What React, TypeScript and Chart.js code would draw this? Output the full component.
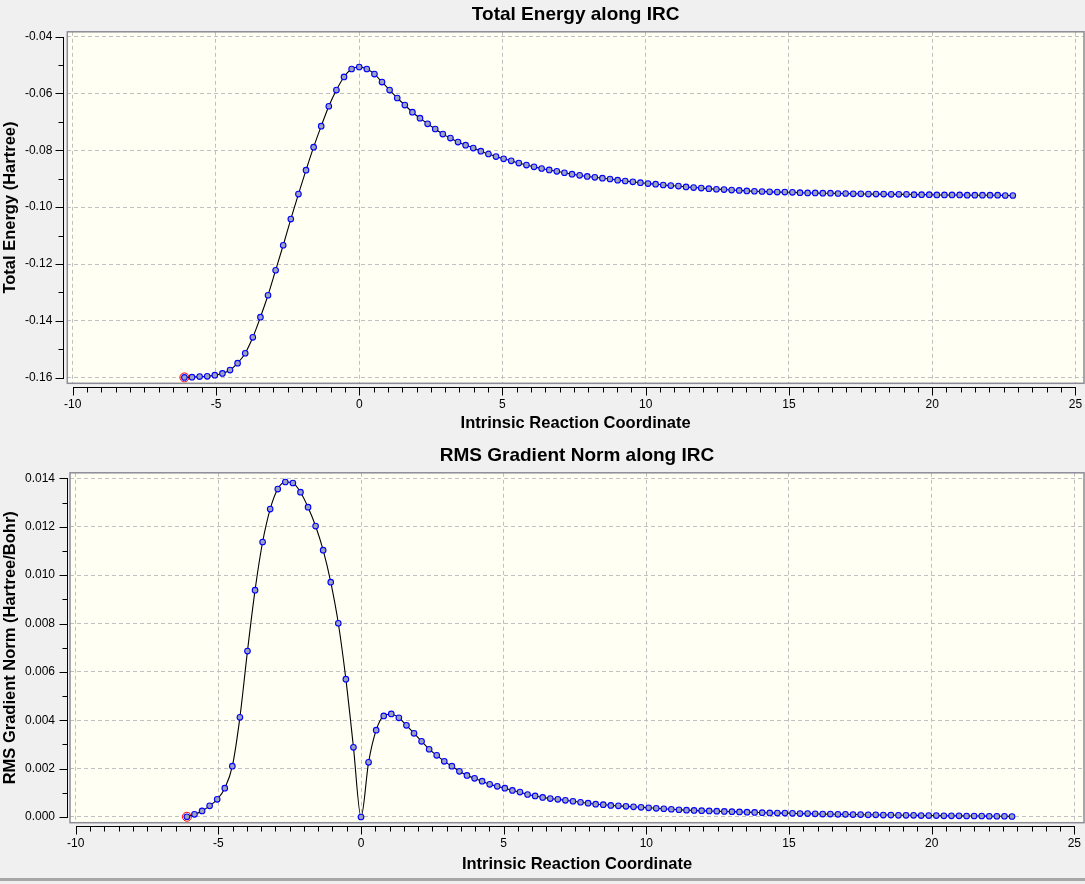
import React, { useEffect, useRef } from 'react';
import { Chart, registerables } from 'chart.js';

Chart.register(...registerables);

// Intrinsic reaction coordinate of every IRC point (reactant side negative, TS at 0)
const IRC_X = [
  -6.102, -5.837, -5.571, -5.306, -5.041, -4.775, -4.51, -4.245, -3.98, -3.714,
  -3.449, -3.184, -2.918, -2.653, -2.388, -2.122, -1.857, -1.592, -1.327, -1.061,
  -0.796, -0.531, -0.265, 0, 0.265, 0.531, 0.796, 1.061, 1.327, 1.592,
  1.857, 2.122, 2.388, 2.653, 2.918, 3.184, 3.449, 3.714, 3.98, 4.245,
  4.51, 4.775, 5.041, 5.306, 5.571, 5.837, 6.102, 6.367, 6.633, 6.898,
  7.163, 7.428, 7.694, 7.959, 8.224, 8.49, 8.755, 9.02, 9.286, 9.551,
  9.816, 10.081, 10.347, 10.612, 10.877, 11.143, 11.408, 11.673, 11.939, 12.204,
  12.469, 12.734, 13.0, 13.265, 13.53, 13.796, 14.061, 14.326, 14.592, 14.857,
  15.122, 15.387, 15.653, 15.918, 16.183, 16.449, 16.714, 16.979, 17.245, 17.51,
  17.775, 18.04, 18.306, 18.571, 18.836, 19.102, 19.367, 19.632, 19.898, 20.163,
  20.428, 20.693, 20.959, 21.224, 21.489, 21.755, 22.02, 22.285, 22.551, 22.816,
];

// Total energy (Hartree)
const TOTAL_ENERGY = [
  -0.1599, -0.1598, -0.1596, -0.1595, -0.1591, -0.1585, -0.1573, -0.1549, -0.1514, -0.1458,
  -0.1387, -0.131, -0.1222, -0.1134, -0.1042, -0.0954, -0.087, -0.0789, -0.0715, -0.0645,
  -0.0588, -0.0542, -0.0514, -0.0507, -0.0514, -0.0532, -0.056, -0.0588, -0.0616, -0.0641,
  -0.0666, -0.0687, -0.0707, -0.0725, -0.0743, -0.0757, -0.0771, -0.0782, -0.0792, -0.0803,
  -0.0813, -0.0822, -0.083, -0.0837, -0.0845, -0.0852, -0.0858, -0.0864, -0.0869, -0.0874,
  -0.0879, -0.0884, -0.0888, -0.0892, -0.0895, -0.0898, -0.0901, -0.0905, -0.0908, -0.0911,
  -0.0914, -0.0917, -0.0919, -0.0922, -0.0924, -0.0926, -0.0929, -0.0931, -0.0933, -0.0935,
  -0.0937, -0.0938, -0.094, -0.0941, -0.0943, -0.0944, -0.0945, -0.0946, -0.0947, -0.0947,
  -0.0948, -0.0949, -0.095, -0.095, -0.0951, -0.0951, -0.0952, -0.0952, -0.0953, -0.0953,
  -0.0954, -0.0954, -0.0954, -0.0955, -0.0955, -0.0955, -0.0956, -0.0956, -0.0956, -0.0957,
  -0.0957, -0.0957, -0.0957, -0.0958, -0.0958, -0.0958, -0.0958, -0.0958, -0.0959, -0.0959,
];

// RMS gradient norm (Hartree/Bohr)
const RMS_GRADIENT = [
  0.00001, 0.00011, 0.00025, 0.00046, 0.00073, 0.00119, 0.0021, 0.00412, 0.00686, 0.00938,
  0.01137, 0.01273, 0.01356, 0.01385, 0.01381, 0.01343, 0.01281, 0.01203, 0.01103, 0.00971,
  0.00801, 0.0057, 0.00288, 0.0, 0.00226, 0.00359, 0.00418, 0.00426, 0.0041, 0.00379,
  0.00346, 0.00313, 0.0028, 0.00255, 0.0023, 0.0021, 0.00189, 0.00172, 0.0016, 0.00148,
  0.00135, 0.00127, 0.00119, 0.0011, 0.00103, 0.00093, 0.00087, 0.00081, 0.00076, 0.00073,
  0.00069, 0.00065, 0.00061, 0.00057, 0.00053, 0.00051, 0.00048, 0.00046, 0.00044, 0.00042,
  0.0004, 0.00038, 0.00036, 0.00034, 0.00032, 0.0003, 0.00028, 0.00027, 0.00026, 0.00025,
  0.00024, 0.00023, 0.00022, 0.00021, 0.0002, 0.00019, 0.00018, 0.00017, 0.00016, 0.00016,
  0.00015, 0.00014, 0.00014, 0.00013, 0.00012, 0.00012, 0.00011, 0.00011, 0.0001, 0.0001,
  0.00009, 0.00009, 0.00008, 0.00008, 0.00007, 0.00007, 0.00007, 0.00006, 0.00006, 0.00006,
  0.00005, 0.00005, 0.00005, 0.00004, 0.00004, 0.00004, 0.00003, 0.00003, 0.00003, 0.00002,
];

const X_TICKS = [-10, -5, 0, 5, 10, 15, 20, 25];
const ENERGY_TICKS = [-0.16, -0.14, -0.12, -0.1, -0.08, -0.06, -0.04];
const GRADIENT_TICKS = [0, 0.002, 0.004, 0.006, 0.008, 0.01, 0.012, 0.014];

const FONT = "'Liberation Sans', Arial, sans-serif";
Chart.defaults.font.family = FONT;

type Spec = {
  title: string;
  yTitle: string;
  values: number[];
  yTicks: number[];
  yDecimals: number;
  yMinor: number;
  yMin: number;
  yMax: number;
  xMin: number;
  xMax: number;
  yAxisWidth: number;
  xAxisHeight: number;
  yGap: number;
  xGap: number;
};

const TOP: Spec = {
  title: 'Total Energy along IRC',
  yTitle: 'Total Energy (Hartree)',
  values: TOTAL_ENERGY,
  yTicks: ENERGY_TICKS,
  yDecimals: 2,
  yMinor: 0.01,
  yMin: -0.16197,
  yMax: -0.03831,
  xMin: -10.19,
  xMax: 25.3,
  yAxisWidth: 67.3,
  xAxisHeight: 57.7,
  yGap: 3,
  xGap: 3.5,
};

const BOTTOM: Spec = {
  title: 'RMS Gradient Norm along IRC',
  yTitle: 'RMS Gradient Norm (Hartree/Bohr)',
  values: RMS_GRADIENT,
  yTicks: GRADIENT_TICKS,
  yDecimals: 3,
  yMinor: 0.001,
  yMin: -0.000236,
  yMax: 0.014231,
  xMin: -10.2,
  xMax: 25.34,
  yAxisWidth: 70,
  xAxisHeight: 59.3,
  yGap: 2,
  xGap: 3.5,
};

const framePlugin = {
  id: 'gaussFrame',
  beforeDraw(chart: any) {
    const { ctx, chartArea: a } = chart;
    ctx.save();
    ctx.fillStyle = '#fffff4';
    ctx.fillRect(a.left, a.top, a.right - a.left, a.bottom - a.top);
    ctx.restore();
  },
  afterDraw(chart: any, _args: any, opts: any) {
    const { ctx, chartArea: a, scales } = chart;
    const xs = scales.x;
    const ys = scales.y;
    ctx.save();
    ctx.strokeStyle = '#8c8c98';
    ctx.lineWidth = 1.5;
    ctx.strokeRect(a.left, a.top, a.right - a.left, a.bottom - a.top);

    ctx.strokeStyle = '#000';
    ctx.lineWidth = 1;
    ctx.beginPath();
    // x axis
    const ay = Math.round(a.bottom + opts.xGap) + 0.5;
    const xFrom = X_TICKS[0];
    const xTo = X_TICKS[X_TICKS.length - 1];
    ctx.moveTo(Math.round(xs.getPixelForValue(xFrom)), ay);
    ctx.lineTo(Math.round(xs.getPixelForValue(xTo)) + 1, ay);
    const nx = Math.round((xTo - xFrom) / 0.5);
    for (let k = 0; k <= nx; k++) {
      const v = xFrom + k * 0.5;
      const px = Math.round(xs.getPixelForValue(v)) + 0.5;
      const major = k % 10 === 0;
      ctx.moveTo(px, ay);
      ctx.lineTo(px, ay + (major ? 8 : 5));
    }
    // y axis
    const yt: number[] = opts.yTicks;
    const ax = Math.round(a.left - opts.yGap) - 0.5;
    const yFrom = yt[0];
    const yTo = yt[yt.length - 1];
    ctx.moveTo(ax, Math.round(ys.getPixelForValue(yTo)));
    ctx.lineTo(ax, Math.round(ys.getPixelForValue(yFrom)) + 1);
    const step = opts.yMinor;
    const ny = Math.round((yTo - yFrom) / step);
    const per = Math.round((yt[1] - yt[0]) / step);
    for (let k = 0; k <= ny; k++) {
      const v = yFrom + k * step;
      const py = Math.round(ys.getPixelForValue(v)) + 0.5;
      const major = k % per === 0;
      ctx.moveTo(ax, py);
      ctx.lineTo(ax - (major ? 8 : 5), py);
    }
    ctx.stroke();
    ctx.restore();
  },
};

function IrcChart({ spec }: { spec: Spec }) {
  const ref = useRef<HTMLCanvasElement | null>(null);
  useEffect(() => {
    if (!ref.current) return;
    const points = IRC_X.map((x, i) => ({ x, y: spec.values[i] }));
    const chart = new Chart(ref.current, {
      type: 'line',
      data: {
        datasets: [
          {
            data: points,
            borderColor: '#000000',
            borderWidth: 1.1,
            pointRadius: 2.8,
            pointBorderWidth: 1.1,
            pointBorderColor: '#0000ff',
            pointBackgroundColor: '#9ea3bc',
            cubicInterpolationMode: 'monotone',
            fill: false,
            order: 0,
          },
          {
            data: [points[0]],
            showLine: false,
            pointRadius: 4.5,
            pointBorderWidth: 1,
            pointBorderColor: '#ff0000',
            pointBackgroundColor: 'rgba(0,0,0,0)',
            order: 1,
          },
        ],
      },
      options: {
        animation: false,
        responsive: false,
        events: [],
        layout: { autoPadding: false, padding: { left: 0, right: 1, top: 0, bottom: 0 } },
        plugins: {
          legend: { display: false },
          tooltip: { enabled: false },
          title: {
            display: true,
            text: spec.title,
            color: '#000',
            fullSize: false,
            font: { family: FONT, size: 19, weight: 'bold' },
            padding: { top: 3, bottom: 6 },
          },
          gaussFrame: {
            yTicks: spec.yTicks,
            yMinor: spec.yMinor,
            yGap: spec.yGap,
            xGap: spec.xGap,
          },
        } as any,
        scales: {
          x: {
            type: 'linear',
            min: spec.xMin,
            max: spec.xMax,
            afterBuildTicks: (s: any) => {
              s.ticks = X_TICKS.map((v) => ({ value: v }));
            },
            afterFit: (s: any) => {
              s.height = spec.xAxisHeight;
              s.paddingLeft = 0;
              s.paddingRight = 0;
            },
            ticks: {
              autoSkip: false,
              maxRotation: 0,
              color: '#000',
              padding: 14,
              font: { family: FONT, size: 12 },
              callback: (v: any) => String(v),
            },
            grid: { color: '#c0c0c0', lineWidth: 1, drawTicks: false },
            border: { display: false, dash: [4, 3] },
            title: {
              display: true,
              text: 'Intrinsic Reaction Coordinate',
              color: '#000',
              font: { family: FONT, size: 16.5, weight: 'bold' },
              padding: { top: 0, bottom: 8 },
            },
          },
          y: {
            type: 'linear',
            min: spec.yMin,
            max: spec.yMax,
            afterBuildTicks: (s: any) => {
              s.ticks = spec.yTicks.map((v) => ({ value: v }));
            },
            afterFit: (s: any) => {
              s.width = spec.yAxisWidth;
              s.paddingTop = 0;
              s.paddingBottom = 0;
            },
            ticks: {
              autoSkip: false,
              color: '#000',
              padding: 15,
              font: { family: FONT, size: 12 },
              callback: (v: any) => Number(v).toFixed(spec.yDecimals),
            },
            grid: { color: '#c0c0c0', lineWidth: 1, drawTicks: false },
            border: { display: false, dash: [4, 3] },
            title: {
              display: true,
              text: spec.yTitle,
              color: '#000',
              font: { family: FONT, size: 16.5, weight: 'bold' },
              padding: { top: 1, bottom: 0 },
            },
          },
        },
      },
      plugins: [framePlugin],
    } as any);
    return () => chart.destroy();
  }, [spec]);
  return <canvas ref={ref} width={1085} height={441} style={{ display: 'block', width: 1085, height: 441 }} />;
}

export default function App() {
  return (
    <div
      style={{
        position: 'absolute',
        left: 0,
        top: 0,
        width: 1085,
        height: 884,
        background: '#f0f0f0',
        overflow: 'hidden',
      }}
    >
      <IrcChart spec={TOP} />
      <IrcChart spec={BOTTOM} />
      <div style={{ position: 'absolute', left: 0, top: 878, width: 1085, height: 3, background: '#a6a6a6' }} />
    </div>
  );
}
